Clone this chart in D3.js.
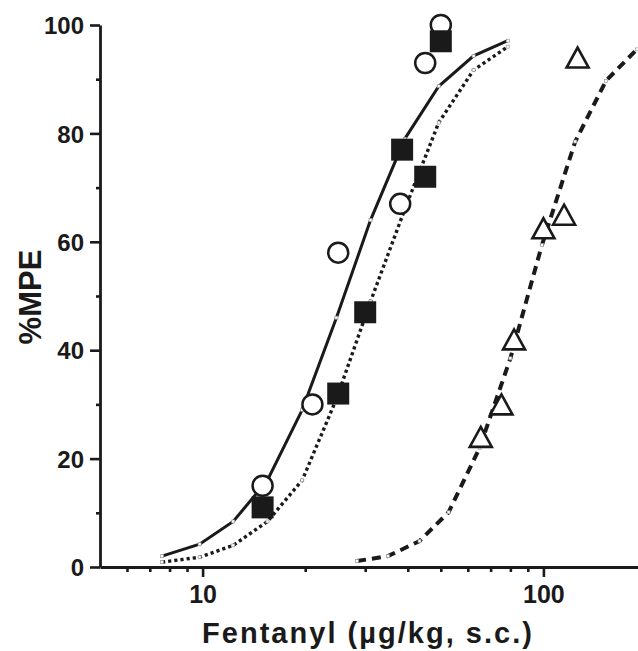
<!DOCTYPE html>
<html>
<head>
<meta charset="utf-8">
<script src="https://cdn.jsdelivr.net/npm/d3@7"></script>
<style>
  html, body { margin: 0; padding: 0; background: #fff; }
  svg { display: block; }
</style>
</head>
<body>
<svg id="chart" width="638" height="651"></svg>
<script>
// Fit curve doses (log spaced) and fitted %MPE
const fitDose     = [7.6, 9.8, 12.3, 15.5, 19.6, 24.7, 31.1, 39.2, 49.3, 62.4, 78.6];
const solidFit    = [2, 4.2, 8.4, 16, 29, 46, 64, 79, 88.7, 94.3, 97.1];
const dottedFit   = [0.9, 1.8, 4.0, 8.4, 16, 31, 49, 66, 82, 91.7, 96];
const dashedDose  = [28.4, 35.0, 43.3, 52.7, 65, 80, 99, 124, 152.6, 188];
const dashedFit   = [1.1, 2.0, 4.8, 10.1, 22, 38.5, 59.4, 78.5, 89.7, 95.5];

// Observed points
const circleDose   = [15, 21, 25, 38, 45, 50];
const circleMPE    = [15, 30, 58, 67, 93, 100];
const squareDose   = [15, 25, 30, 38.5, 45, 50];
const squareMPE    = [11, 32, 47, 77, 72, 97];
const triangleDose = [65.5, 75.3, 82, 100, 115, 126];
const triangleMPE  = [24, 30, 42, 62.5, 65, 94];

// Axis ticks
const yMajor = [0, 20, 40, 60, 80, 100];
const yMinor = [10, 30, 50, 70, 90];
const xMajor = [10, 100];
const xMinor = [6, 7, 8, 9, 20, 30, 40, 50, 60, 70, 80, 90, 200];

const svg = d3.select('#chart');
const ink = '#1a1a1a';

const x = d3.scaleLog().domain([5, 200]).range([100, 646]);
const y = d3.scaleLinear().domain([0, 100]).range([567, 25]);

const font = '"Liberation Sans", Arial, Helvetica, sans-serif';

// Fit lines
const line = d3.line().x(d => x(d[0])).y(d => y(d[1]));

svg.append('path').datum(d3.zip(fitDose, solidFit)).attr('d', line)
  .attr('fill', 'none').attr('stroke', ink).attr('stroke-width', 3);

svg.append('path').datum(d3.zip(fitDose, dottedFit)).attr('d', line)
  .attr('fill', 'none').attr('stroke', ink).attr('stroke-width', 3.4)
  .attr('stroke-dasharray', '3.2 3');

svg.append('path').datum(d3.zip(dashedDose, dashedFit)).attr('d', line)
  .attr('fill', 'none').attr('stroke', ink).attr('stroke-width', 4)
  .attr('stroke-dasharray', '9 6');

// tiny nodes on the fit lines
[[fitDose, solidFit], [fitDose, dottedFit], [dashedDose, dashedFit]].forEach(([xs, ys]) => {
  svg.append('g').selectAll('rect').data(d3.zip(xs, ys)).join('rect')
    .attr('x', d => x(d[0]) - 1.5).attr('y', d => y(d[1]) - 1.5)
    .attr('width', 3).attr('height', 3)
    .attr('fill', '#fff').attr('stroke', '#999').attr('stroke-width', 0.7);
});

// Axes
const yAxis = svg.append('g').attr('transform', 'translate(100,0)')
  .call(d3.axisLeft(y).tickValues(yMajor).tickSize(10).tickSizeOuter(0).tickPadding(6));
svg.append('g').attr('transform', 'translate(100,0)')
  .call(d3.axisLeft(y).tickValues(yMinor).tickSize(4).tickSizeOuter(0).tickFormat(''))
  .select('.domain').remove();

const xAxis = svg.append('g').attr('transform', 'translate(0,567)')
  .call(d3.axisBottom(x).tickValues(xMajor).tickSize(10).tickSizeOuter(0)
    .tickFormat(d3.format('d')).tickPadding(8));
svg.append('g').attr('transform', 'translate(0,567)')
  .call(d3.axisBottom(x).tickValues(xMinor).tickSize(5).tickSizeOuter(0).tickFormat(''))
  .select('.domain').remove();

svg.selectAll('.domain').attr('stroke', ink).attr('stroke-width', 2.8);
svg.selectAll('.tick line').attr('stroke', ink).attr('stroke-width', 2.6);
yAxis.selectAll('.tick text')
  .attr('font-family', font).attr('font-size', 24).attr('font-weight', 700).attr('fill', ink)
  .attr('dy', '0.36em');
xAxis.selectAll('.tick text')
  .attr('font-family', font).attr('font-size', 25).attr('font-weight', 700).attr('fill', ink);

// Markers
svg.append('g').selectAll('circle').data(d3.zip(circleDose, circleMPE)).join('circle')
  .attr('cx', d => x(d[0])).attr('cy', d => y(d[1])).attr('r', 10)
  .attr('fill', '#fff').attr('stroke', ink).attr('stroke-width', 2.5);

svg.append('g').selectAll('rect').data(d3.zip(squareDose, squareMPE)).join('rect')
  .attr('x', d => x(d[0]) - 11).attr('y', d => y(d[1]) - 11)
  .attr('width', 22).attr('height', 22).attr('fill', ink);

svg.append('g').selectAll('path').data(d3.zip(triangleDose, triangleMPE)).join('path')
  .attr('transform', d => `translate(${x(d[0])},${y(d[1])})`)
  .attr('d', 'M0,-10L11,10L-11,10Z')
  .attr('fill', '#fff').attr('stroke', ink).attr('stroke-width', 2.6)
  .attr('stroke-linejoin', 'miter');

// Axis titles
svg.append('text')
  .attr('transform', 'translate(41,297) rotate(-90)')
  .attr('text-anchor', 'middle')
  .attr('font-family', font).attr('font-size', 31).attr('font-weight', 700).attr('fill', ink)
  .text('%MPE');

svg.append('text')
  .attr('x', 367).attr('y', 643)
  .attr('text-anchor', 'middle')
  .attr('font-family', font).attr('font-size', 29).attr('font-weight', 700).attr('fill', ink)
  .attr('textLength', 330).attr('lengthAdjust', 'spacing')
  .text('Fentanyl (µg/kg, s.c.)');
</script>
</body>
</html>
